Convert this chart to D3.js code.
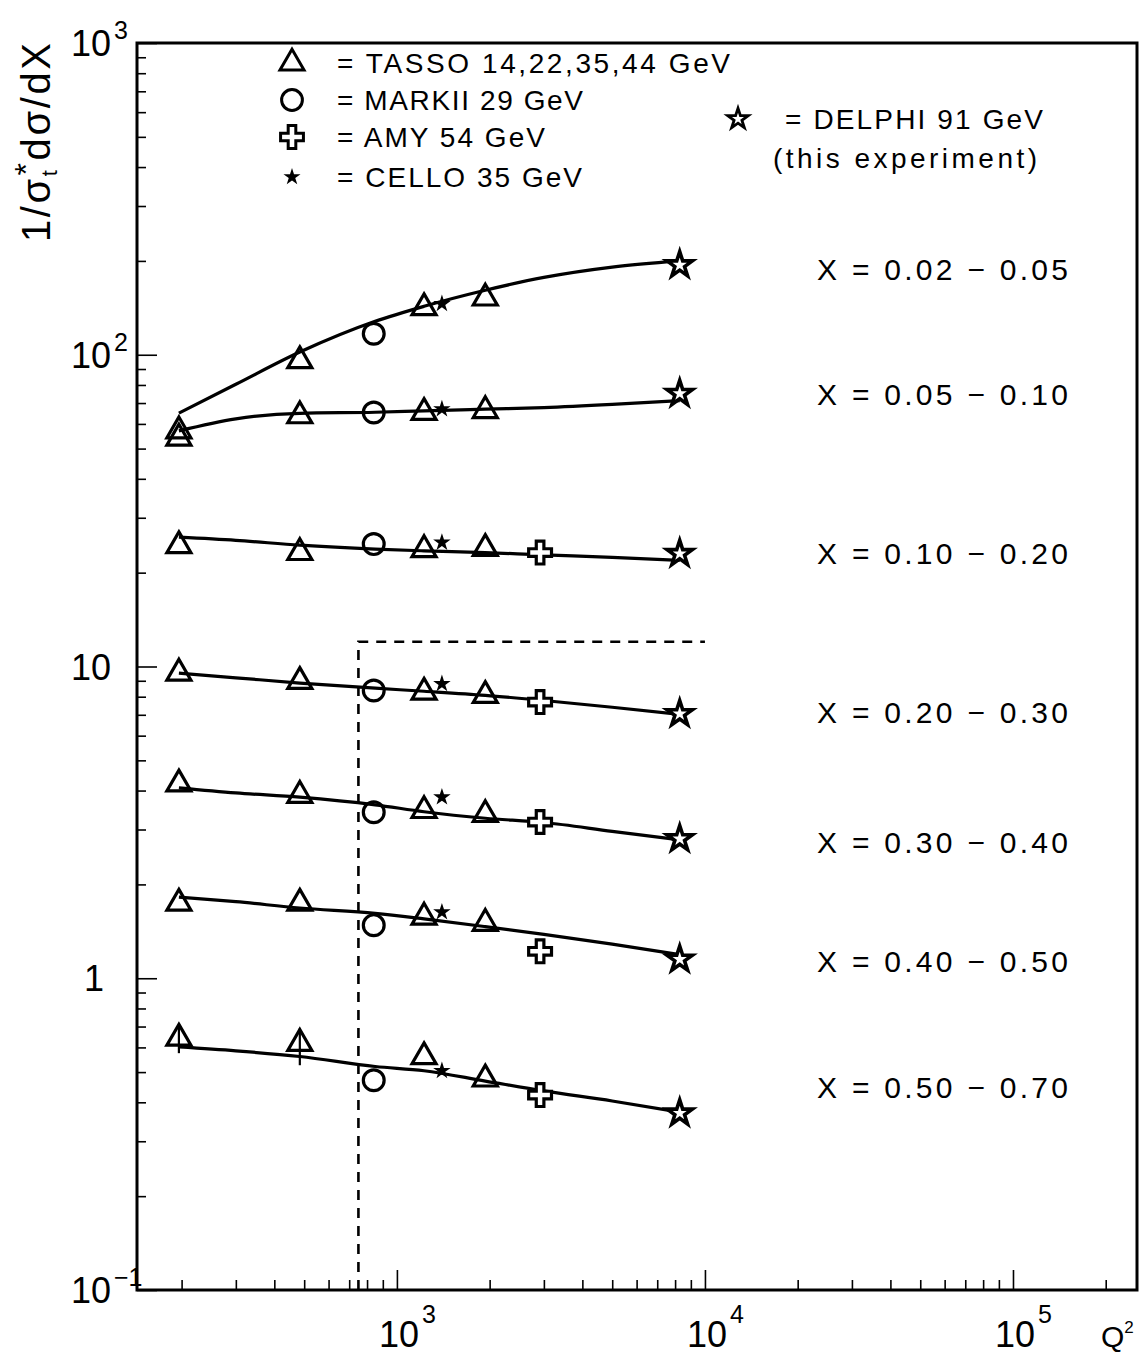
<!DOCTYPE html>
<html><head><meta charset="utf-8">
<script src="https://cdn.jsdelivr.net/npm/d3@7"></script>
<style>body{margin:0;background:#fff}svg{display:block}</style>
</head><body>
<svg id="c" width="1142" height="1358"></svg>
<script>
// ---------- data ----------
const binLabels = ["X = 0.02 \u2212 0.05","X = 0.05 \u2212 0.10","X = 0.10 \u2212 0.20","X = 0.20 \u2212 0.30","X = 0.30 \u2212 0.40","X = 0.40 \u2212 0.50","X = 0.50 \u2212 0.70"];
const binLabelY = [188.7, 75, 23.2, 7.12, 2.73, 1.14, 0.448];

const tassoQ2 = [196, 484, 1225, 1936];
const tassoVals = [
  [57, 95.7, 141.5, 152],
  [54, 63.7, 65.3, 66.2],
  [24.4, 23.2, 23.7, 23.9],
  [9.52, 8.95, 8.27, 8.07],
  [4.2, 3.86, 3.45, 3.35],
  [1.74, 1.74, 1.57, 1.50],
  [0.642, 0.618, 0.560, 0.475]
];
const tassoErrLo = [[0,0,0,0],[0,0,0,0],[0,0,0,0],[0,0,0,0],[0,0,0,0],[0,0,0,0],[0.067,0.092,0,0]];
const tassoErrHi = [[0,0,0,0],[0,0,0,0],[0,0,0,0],[0,0,0,0],[0,0,0,0],[0,0,0,0],[0.065,0.073,0,0]];

const markiiQ2 = 841;
const markiiVals = [116.8, 65.3, 24.7, 8.38, 3.41, 1.48, 0.471];
const celloQ2 = 1400;
const celloVals = [145.7, 67.0, 25.0, 8.80, 3.81, 1.63, 0.505];
const amyQ2 = 2916;
const amyVals = [null, null, 23.2, 7.69, 3.17, 1.22, 0.422];
const delphiQ2 = 8281;
const delphiVals = [194, 75, 23.0, 7.05, 2.80, 1.15, 0.369];

const fitQ2 = [196, 300, 484, 850, 1225, 1936, 3000, 5000, 8281];
const fitVals = [
  [65, 80.4, 102, 128, 143, 161, 177, 191, 200],
  [57, 62.3, 64.9, 65.4, 66.1, 66.9, 67.7, 69.3, 71.3],
  [26.0, 25.4, 24.5, 23.8, 23.5, 23.2, 22.8, 22.4, 21.9],
  [9.52, 9.2, 8.85, 8.52, 8.33, 8.08, 7.78, 7.4, 7.02],
  [4.08, 3.93, 3.81, 3.60, 3.42, 3.26, 3.16, 2.96, 2.78],
  [1.82, 1.76, 1.68, 1.615, 1.55, 1.464, 1.382, 1.287, 1.19],
  [0.602, 0.585, 0.561, 0.521, 0.505, 0.468, 0.435, 0.404, 0.372]
];

const boxCorner = [750, 12];      // Q2, value
const boxRightQ2 = 10000;

const xMajor = [1e3, 1e4, 1e5];
const xMajorExp = ["3","4","5"];
const yMajor = [0.1, 1, 10, 100, 1000];
const yMajorBase = ["10","1","10","10","10"];
const yMajorExp = ["\u22121","","","2","3"];

const legendItems = ["= TASSO 14,22,35,44 GeV","= MARKII 29 GeV","= AMY 54 GeV","= CELLO 35 GeV"];
const legendDelphi = ["= DELPHI 91 GeV","(this experiment)"];

// ---------- layout ----------
const svg = d3.select("#c");
const L = 137, R = 1137, T = 43, B = 1290;
const x = d3.scaleLog().domain([143.3, 2.527e5]).range([L, R]);
const y = d3.scaleLog().domain([0.1, 1000]).range([B, T]);
const FONT = "'Liberation Sans', Arial, sans-serif";

// minor ticks
const xMinor = [], yMinor = [];
for (let e = 2; e <= 5; e++) for (let m = 2; m <= 9; m++) { const v = m * Math.pow(10, e); if (v > 143.3 && v < 2.527e5) xMinor.push(v); }
for (let e = -1; e <= 2; e++) for (let m = 2; m <= 9; m++) yMinor.push(m * Math.pow(10, e));

function styleAxis(g){ g.select(".domain").remove(); g.selectAll("line").attr("stroke","#000").attr("stroke-width",1.6); g.selectAll("text").remove(); }
svg.append("g").attr("transform",`translate(0,${B})`).call(d3.axisBottom(x).tickValues(xMinor).tickSize(-10).tickFormat("")).call(styleAxis);
svg.append("g").attr("transform",`translate(0,${B})`).call(d3.axisBottom(x).tickValues(xMajor).tickSize(-20).tickFormat("")).call(styleAxis);
svg.append("g").attr("transform",`translate(${L},0)`).call(d3.axisLeft(y).tickValues(yMinor).tickSize(-9).tickFormat("")).call(styleAxis);
svg.append("g").attr("transform",`translate(${L},0)`).call(d3.axisLeft(y).tickValues(yMajor).tickSize(-20).tickFormat("")).call(styleAxis);

// frame
svg.append("rect").attr("x",L).attr("y",T).attr("width",R-L).attr("height",B-T)
  .attr("fill","none").attr("stroke","#000").attr("stroke-width",3);

// tick labels
xMajor.forEach((v,i)=>{
  const t = svg.append("text").attr("font-family",FONT).attr("font-size",36).attr("fill","#000")
    .attr("x",x(v)-18).attr("y",1347);
  t.append("tspan").text("10");
  t.append("tspan").attr("font-size",25).attr("dy",-24).attr("dx",3).text(xMajorExp[i]);
});
yMajor.forEach((v,i)=>{
  svg.append("text").attr("font-family",FONT).attr("font-size",36).attr("fill","#000")
    .attr("text-anchor","end").attr("x", yMajorBase[i]==="1" ? 104 : 111).attr("y",y(v)+13).text(yMajorBase[i]);
  if (yMajorExp[i]) svg.append("text").attr("font-family",FONT).attr("font-size",25).attr("fill","#000")
    .attr("x",114).attr("y",y(v)-4).text(yMajorExp[i]);
});
// Q^2
const q = svg.append("text").attr("font-family",FONT).attr("font-size",30).attr("x",1101).attr("y",1347);
q.append("tspan").text("Q");
q.append("tspan").attr("font-size",17).attr("dy",-14).text("2");

// y title
const yt = svg.append("text").attr("font-family",FONT).attr("font-size",40)
  .attr("transform","translate(50,242) rotate(-90)")
  .attr("textLength",199).attr("lengthAdjust","spacing");
yt.append("tspan").text("1/\u03c3");
yt.append("tspan").attr("font-size",22).attr("dy",7).text("t");
yt.append("tspan").attr("font-size",32).attr("dy",-20).attr("dx",-8).text("*");
yt.append("tspan").attr("dy",13).text("d\u03c3/dX");

// dashed box
svg.append("path")
  .attr("d",`M${x(boxCorner[0])},${B}V${y(boxCorner[1])}H${x(boxRightQ2)}`)
  .attr("fill","none").attr("stroke","#000").attr("stroke-width",2.6).attr("stroke-dasharray","10,8");

// fit curves
const line = d3.line().x(d=>x(d[0])).y(d=>y(d[1])).curve(d3.curveMonotoneX);
fitVals.forEach(vals=>{
  svg.append("path").datum(fitQ2.map((q,i)=>[q,vals[i]])).attr("d",line)
    .attr("fill","none").attr("stroke","#000").attr("stroke-width",3.2);
});

// markers
const sym = {
  tri: d3.symbol().type(d3.symbolTriangle).size(250),
  circ: d3.symbol().type(d3.symbolCircle).size(340),
  cross: d3.symbol().type(d3.symbolCross).size(290),
  fstar: d3.symbol().type(d3.symbolStar).size(95),
  ostar: d3.symbol().type(d3.symbolStar).size(200)
};
function mark(kind, q2, v){
  const s = svg.append("path").attr("d",sym[kind]()).attr("transform",`translate(${x(q2)},${y(v)})`);
  if (kind==="fstar") s.attr("fill","#000");
  else s.attr("fill", kind==="tri"||kind==="circ" ? "none" : "#fff").attr("stroke","#000").attr("stroke-width", kind==="ostar"?3.6:3.2);
  return s;
}
tassoVals.forEach((vals,b)=>vals.forEach((v,i)=>{
  const lo = tassoErrLo[b][i], hi = tassoErrHi[b][i];
  if (lo||hi) svg.append("line").attr("x1",x(tassoQ2[i])).attr("x2",x(tassoQ2[i]))
     .attr("y1",y(v-lo)).attr("y2",y(v+hi)).attr("stroke","#000").attr("stroke-width",2.2);
  mark("tri", tassoQ2[i], v);
}));
markiiVals.forEach(v=>mark("circ", markiiQ2, v));
amyVals.forEach(v=>{ if (v!=null) mark("cross", amyQ2, v); });
celloVals.forEach(v=>mark("fstar", celloQ2, v));
delphiVals.forEach(v=>mark("ostar", delphiQ2, v));

// bin labels
binLabels.forEach((t,i)=>{
  svg.append("text").attr("font-family",FONT).attr("font-size",30).attr("x",817).attr("y",y(binLabelY[i])+11)
    .attr("textLength",251).attr("lengthAdjust","spacing").text(t);
});

// legend
const legSym = ["tri","circ","cross","fstar"];
const legY = [63, 100, 137, 177];
const legW = [393, 246, 208, 245];
legendItems.forEach((t,i)=>{
  const s = svg.append("path").attr("d",sym[legSym[i]]()).attr("transform",`translate(292,${legY[i]})`);
  if (legSym[i]==="fstar") s.attr("fill","#000").attr("d", d3.symbol().type(d3.symbolStar).size(90)());
  else s.attr("fill",legSym[i]==="cross"?"#fff":"none").attr("stroke","#000").attr("stroke-width",3);
  svg.append("text").attr("font-family",FONT).attr("font-size",28).attr("x",337).attr("y",legY[i]+10)
    .attr("textLength",legW[i]).attr("lengthAdjust","spacing").text(t);
});
svg.append("path").attr("d",d3.symbol().type(d3.symbolStar).size(130)()).attr("transform","translate(738,119)")
  .attr("fill","#fff").attr("stroke","#000").attr("stroke-width",2.8);
svg.append("text").attr("font-family",FONT).attr("font-size",28).attr("x",785).attr("y",129)
  .attr("textLength",258).attr("lengthAdjust","spacing").text(legendDelphi[0]);
svg.append("text").attr("font-family",FONT).attr("font-size",28).attr("x",773).attr("y",168)
  .attr("textLength",264).attr("lengthAdjust","spacing").text(legendDelphi[1]);
</script>
</body></html>
